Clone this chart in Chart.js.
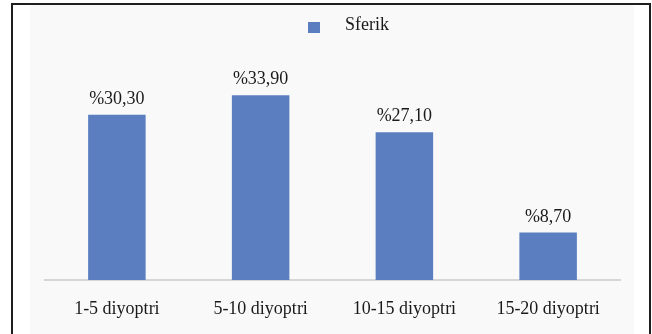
<!DOCTYPE html>
<html>
<head>
<meta charset="utf-8">
<script src="https://cdn.jsdelivr.net/npm/chart.js@4/dist/chart.umd.min.js"></script>
<style>
  html, body { margin: 0; padding: 0; background: #ffffff; }
  #wrap { width: 652px; height: 334px; }
</style>
</head>
<body>
<div id="wrap"><canvas id="c" width="652" height="334"></canvas></div>
<script>
// Refraction ranges and share of spherical cases
const categories = ['1-5 diyoptri', '5-10 diyoptri', '10-15 diyoptri', '15-20 diyoptri'];
const sferikValues = [30.30, 33.90, 27.10, 8.70];
const seriesLabel = 'Sferik';

const FONT = '"Liberation Serif", "Times New Roman", serif';
const BAR_COLOR = '#5a7ebf';
const TEXT_COLOR = '#1a1a1a';

// Turkish-style percent label: "%30,30"
function percentLabel(v) {
  return '%' + v.toFixed(2).replace('.', ',');
}

// Frame and light panel behind the chart
const framePlugin = {
  id: 'frame',
  beforeDraw(chart) {
    const ctx = chart.ctx;
    ctx.save();
    ctx.fillStyle = '#ffffff';
    ctx.fillRect(0, 0, chart.width, chart.height);
    ctx.fillStyle = '#f9f9f9';
    ctx.fillRect(30, 5, 604, chart.height - 5);
    ctx.strokeStyle = '#1e1e1e';
    ctx.lineWidth = 2;
    ctx.beginPath();
    ctx.moveTo(12, chart.height);
    ctx.lineTo(12, 4);
    ctx.lineTo(650, 4);
    ctx.lineTo(650, chart.height);
    ctx.stroke();
    ctx.restore();
  }
};

// Single-entry legend: square marker, wide gap, series name
const legendPlugin = {
  id: 'seriesLegend',
  afterDraw(chart) {
    const ds = chart.data.datasets[0];
    const ctx = chart.ctx;
    ctx.save();
    ctx.fillStyle = ds.backgroundColor;
    ctx.fillRect(308, 22, 12, 11);
    ctx.fillStyle = TEXT_COLOR;
    ctx.font = '18px ' + FONT;
    ctx.textAlign = 'left';
    ctx.textBaseline = 'alphabetic';
    ctx.fillText(ds.label, 345, 30);
    ctx.restore();
  }
};

// Value labels above each bar
const valueLabelPlugin = {
  id: 'valueLabels',
  afterDatasetsDraw(chart) {
    const ctx = chart.ctx;
    const meta = chart.getDatasetMeta(0);
    const values = chart.data.datasets[0].data;
    ctx.save();
    ctx.fillStyle = TEXT_COLOR;
    ctx.font = '18px ' + FONT;
    ctx.textAlign = 'center';
    ctx.textBaseline = 'alphabetic';
    meta.data.forEach((bar, i) => {
      ctx.fillText(percentLabel(values[i]), bar.x, bar.y - 11);
    });
    ctx.restore();
  }
};

new Chart(document.getElementById('c'), {
  type: 'bar',
  data: {
    labels: categories,
    datasets: [{
      label: seriesLabel,
      data: sferikValues,
      backgroundColor: BAR_COLOR,
      borderWidth: 0,
      categoryPercentage: 1.0,
      barPercentage: 0.4
    }]
  },
  options: {
    responsive: false,
    animation: false,
    devicePixelRatio: 1,
    layout: { padding: { left: 45, right: 32, top: 62, bottom: 0 } },
    plugins: {
      legend: { display: false },
      tooltip: { enabled: false }
    },
    scales: {
      x: {
        grid: { display: false, drawTicks: false },
        border: { display: true, color: '#d6d6d6', width: 2 },
        ticks: {
          color: TEXT_COLOR,
          font: { family: FONT, size: 18 },
          padding: 18,
          maxRotation: 0,
          autoSkip: false
        },
        afterFit(scale) { scale.height = 54; }
      },
      y: {
        display: false,
        min: 0,
        max: 40
      }
    }
  },
  plugins: [framePlugin, valueLabelPlugin, legendPlugin]
});
</script>
</body>
</html>
